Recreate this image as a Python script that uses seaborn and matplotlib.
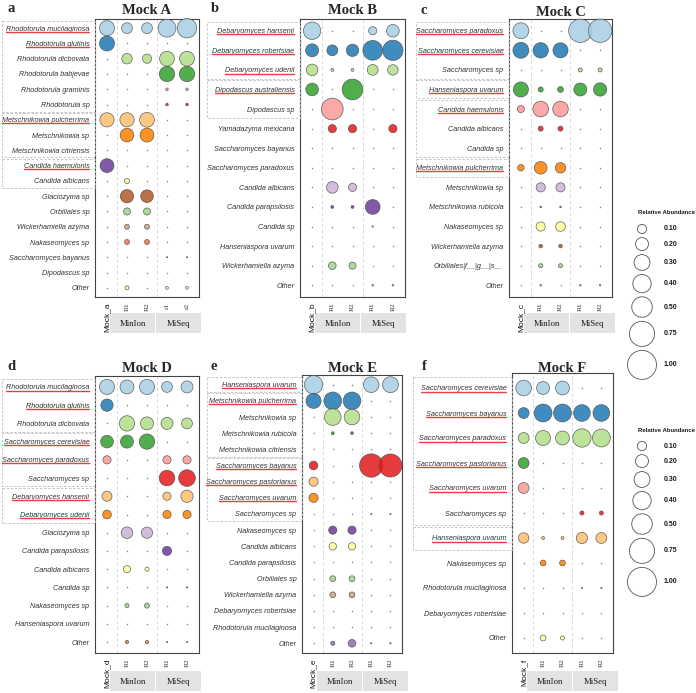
import matplotlib
matplotlib.use("Agg")
import matplotlib.pyplot as plt
import matplotlib.transforms as mtrans
from matplotlib.patches import Rectangle
from matplotlib.lines import Line2D
import pandas as pd
import seaborn as sns

# ---------------- data ----------------
A_taxa = ["Rhodotorula mucilaginosa", "Rhodotorula glutinis", "Rhodotorula dicbovata",
          "Rhodotorula babjevae", "Rhodotorula graminis", "Rhodotorula sp",
          "Metschnikowia pulcherrima", "Metschnikowia sp", "Metschnikowia citriensis",
          "Candida haemulonis", "Candida albicans", "Glaciozyma sp", "Orbiliales sp",
          "Wickerhamiella azyma", "Nakaseomyces sp", "Saccharomyces bayanus",
          "Dipodascus sp", "Other"]
A_vals = [[0.27, 0.14, 0.14, 0.38, 0.45],
          [0.27, 0, 0, 0, 0],
          [0, 0.13, 0.10, 0.26, 0.26],
          [0, 0, 0, 0.28, 0.28],
          [0, 0, 0, 0.008, 0.008],
          [0, 0, 0, 0.008, 0.008],
          [0.24, 0.24, 0.26, 0, 0],
          [0, 0.22, 0.23, 0, 0],
          [0, 0, 0, 0, 0],
          [0.23, 0, 0, 0, 0],
          [0, 0.03, 0, 0, 0],
          [0, 0.21, 0.19, 0, 0],
          [0, 0.06, 0.06, 0, 0],
          [0, 0.03, 0.03, 0, 0],
          [0, 0.03, 0.03, 0, 0],
          [0, 0, 0, 0.002, 0.002],
          [0, 0, 0, 0, 0],
          [0, 0.02, 0, 0.01, 0.01]]
A_cols = ["Mock_a", "R1", "R2", "r1", "r2"]
A_groups = [(0, 5), (6, 8), (9, 10)]
A_under = [0, 1, 6, 9]

B_taxa = ["Debaryomyces hansenii", "Debaryomyces robertsiae", "Debaryomyces udenii",
          "Dipodascus australiensis", "Dipodascus sp", "Yamadazyma mexicana",
          "Saccharomyces bayanus", "Saccharomyces paradoxus", "Candida albicans",
          "Candida parapsilosis", "Candida sp", "Hanseniaspora uvarum",
          "Wickerhamiella azyma", "Other"]
B_vals = [[0.36, 0, 0, 0.08, 0.19],
          [0.20, 0.14, 0.18, 0.46, 0.49],
          [0.16, 0.01, 0.01, 0.14, 0.13],
          [0.19, 0, 0.51, 0, 0],
          [0, 0.56, 0, 0, 0],
          [0, 0.08, 0.08, 0, 0.08],
          [0, 0, 0, 0, 0],
          [0, 0, 0, 0, 0],
          [0, 0.16, 0.08, 0, 0],
          [0, 0.01, 0.01, 0.26, 0],
          [0, 0, 0, 0.003, 0],
          [0, 0, 0, 0, 0],
          [0, 0.07, 0.06, 0, 0],
          [0, 0, 0, 0.003, 0.003]]
B_cols = ["Mock_b", "R1", "R2", "R1", "R2"]
B_groups = [(0, 2), (3, 4)]
B_under = [0, 1, 2, 3]

C_taxa = ["Saccharomyces paradoxus", "Saccharomyces cerevisiae", "Saccharomyces sp",
          "Hanseniaspora uvarum", "Candida haemulonis", "Candida albicans", "Candida sp",
          "Metschnikowia pulcherrima", "Metschnikowia sp", "Metschnikowia rubicola",
          "Nakaseomyces sp", "Wickerhamiella azyma", "Orbiliales|f__|g__|s__", "Other"]
C_vals = [[0.30, 0, 0, 0.65, 0.65],
          [0.30, 0.28, 0.27, 0, 0],
          [0, 0, 0, 0.02, 0.02],
          [0.27, 0.03, 0.04, 0.20, 0.21],
          [0.06, 0.29, 0.29, 0, 0],
          [0, 0.03, 0.03, 0, 0],
          [0, 0, 0, 0, 0],
          [0.05, 0.19, 0.13, 0, 0],
          [0, 0.10, 0.10, 0, 0],
          [0, 0.003, 0.003, 0, 0],
          [0, 0.10, 0.11, 0, 0],
          [0, 0.015, 0.015, 0, 0],
          [0, 0.02, 0.02, 0, 0],
          [0, 0.003, 0, 0.003, 0.003]]
C_cols = ["Mock_c", "R1", "R2", "R1", "R2"]
C_groups = [(0, 2), (3, 3), (4, 6), (7, 7)]
C_under = [0, 1, 3, 4, 7]

D_taxa = ["Rhodotorula mucilaginosa", "Rhodotorula glutinis", "Rhodotorula dicbovata",
          "Saccharomyces cerevisiae", "Saccharomyces paradoxus", "Saccharomyces sp",
          "Debaryomyces hansenii", "Debaryomyces udenii", "Glaciozyma sp",
          "Candida parapsilosis", "Candida albicans", "Candida sp", "Nakaseomyces sp",
          "Hanseniaspora uvarum", "Other"]
D_vals = [[0.27, 0.23, 0.27, 0.14, 0.17],
          [0.18, 0, 0, 0, 0],
          [0, 0.28, 0.20, 0.17, 0.14],
          [0.19, 0.20, 0.28, 0, 0],
          [0.08, 0, 0, 0.08, 0.08],
          [0, 0, 0, 0.29, 0.33],
          [0.12, 0, 0, 0.08, 0.18],
          [0.09, 0, 0, 0.08, 0.08],
          [0, 0.16, 0.15, 0, 0],
          [0, 0, 0, 0.10, 0],
          [0, 0.06, 0.02, 0, 0],
          [0, 0, 0, 0.002, 0.002],
          [0, 0.02, 0.03, 0, 0],
          [0, 0, 0, 0, 0],
          [0, 0.013, 0.013, 0.002, 0.002]]
D_cols = ["Mock_d", "R1", "R2", "R1", "R2"]
D_groups = [(0, 2), (3, 5), (6, 7)]
D_under = [0, 1, 3, 4, 6, 7]

E_taxa = ["Hanseniaspora uvarum", "Metschnikowia pulcherrima", "Metschnikowia sp",
          "Metschnikowia rubicola", "Metschnikowia citriensis", "Saccharomyces bayanus",
          "Saccharomyces pastorianus", "Saccharomyces uvarum", "Saccharomyces sp",
          "Nakaseomyces sp", "Candida albicans", "Candida parapsilosis", "Orbiliales sp",
          "Wickerhamiella azyma", "Debaryomyces robertsiae", "Rhodotorula mucilaginosa",
          "Other"]
E_vals = [[0.40, 0, 0, 0.29, 0.30],
          [0.27, 0.37, 0.37, 0, 0],
          [0, 0.33, 0.29, 0, 0],
          [0, 0.01, 0.01, 0, 0],
          [0, 0, 0, 0, 0],
          [0.09, 0, 0, 0.65, 0.63],
          [0.10, 0, 0, 0, 0],
          [0.10, 0, 0, 0, 0],
          [0, 0, 0, 0.002, 0.002],
          [0, 0.08, 0.08, 0, 0],
          [0, 0.065, 0.065, 0, 0],
          [0, 0, 0, 0, 0],
          [0, 0.04, 0.04, 0, 0],
          [0, 0.04, 0.04, 0, 0],
          [0, 0, 0, 0, 0],
          [0, 0, 0, 0, 0],
          [0, 0.02, 0.07, 0.002, 0.002]]
E_cols = ["Mock_e", "R1", "R2", "R1", "R2"]
E_groups = [(0, 0), (1, 4), (5, 8)]
E_under = [0, 1, 5, 6, 7]

F_taxa = ["Saccharomyces cerevisiae", "Saccharomyces bayanus", "Saccharomyces paradoxus",
          "Saccharomyces pastorianus", "Saccharomyces uvarum", "Saccharomyces sp",
          "Hanseniaspora uvarum", "Nakaseomyces sp", "Rhodotorula mucilaginosa",
          "Debaryomyces robertsiae", "Other"]
F_vals = [[0.29, 0.20, 0.23, 0, 0],
          [0.14, 0.38, 0.38, 0.33, 0.33],
          [0.14, 0.27, 0.23, 0.40, 0.38],
          [0.14, 0, 0, 0, 0],
          [0.14, 0, 0, 0, 0],
          [0, 0, 0, 0.02, 0.02],
          [0.13, 0.01, 0.01, 0.15, 0.14],
          [0, 0.04, 0.04, 0, 0],
          [0, 0, 0, 0.002, 0.002],
          [0, 0, 0, 0, 0],
          [0, 0.04, 0.02, 0, 0]]
F_cols = ["Mock_f", "R1", "R2", "R1", "R2"]
F_groups = [(0, 5), (6, 6)]
F_under = [0, 1, 2, 3, 4, 6]

legend_vals = [0.10, 0.20, 0.30, 0.40, 0.50, 0.75, 1.00]
platforms = ["MinIon", "MiSeq"]

palette = ["#A6CEE3", "#1F78B4", "#B2DF8A", "#33A02C", "#FB9A99", "#E31A1C",
           "#FDBF6F", "#FF7F00", "#CAB2D6", "#6A3D9A", "#FFFF99", "#B15928",
           "#9FD38F", "#C9A27E", "#F0714F", "#6E6E6E", "#8E6CB5", "#EEF5A8"]

# ---------------- style ----------------
sns.set_style("white")
plt.rcParams["font.family"] = ["Liberation Sans", "DejaVu Sans"]
SERIF = ["Liberation Serif", "DejaVu Serif"]
S_MAX = 436  # marker area (pt^2) for relative abundance 1.0

W, H = 696, 693
fig = plt.figure(figsize=(W / 100, H / 100), dpi=100)


def add_ax(x0, x1, y0, y1):
    return fig.add_axes([x0 / W, 1 - y1 / H, (x1 - x0) / W, (y1 - y0) / H])


def ftext(px, py, s, **kw):
    return fig.text(px / W, 1 - py / H, s, **kw)


panels = [
    dict(letter="a", title="Mock A", taxa=A_taxa, vals=A_vals, cols=A_cols,
         groups=A_groups, under=A_under, box=(95, 199, 19, 297), left=2, lpos=(11, 9), strip=16),
    dict(letter="b", title="Mock B", taxa=B_taxa, vals=B_vals, cols=B_cols,
         groups=B_groups, under=B_under, box=(300, 405, 19, 297), left=207, lpos=(215, 9), strip=16),
    dict(letter="c", title="Mock C", taxa=C_taxa, vals=C_vals, cols=C_cols,
         groups=C_groups, under=C_under, box=(509, 612, 19, 297), left=416, lpos=(424, 11), strip=16),
    dict(letter="d", title="Mock D", taxa=D_taxa, vals=D_vals, cols=D_cols,
         groups=D_groups, under=D_under, box=(95, 199, 376, 653), left=2, lpos=(11, 367), strip=18),
    dict(letter="e", title="Mock E", taxa=E_taxa, vals=E_vals, cols=E_cols,
         groups=E_groups, under=E_under, box=(302, 402, 375, 653), left=207, lpos=(214, 367), strip=18),
    dict(letter="f", title="Mock F", taxa=F_taxa, vals=F_vals, cols=F_cols,
         groups=F_groups, under=F_under, box=(512, 613, 373, 653), left=413, lpos=(424, 367), strip=18),
]

axes = []
for p in panels:
    x0, x1, y0, y1 = p["box"]
    ax = add_ax(x0, x1, y0, y1)
    axes.append(ax)
    n = len(p["taxa"])
    recs = []
    for i, (t, row) in enumerate(zip(p["taxa"], p["vals"])):
        for j, v in enumerate(row):
            recs.append(dict(taxon=t, y=i, x=j, value=v))
    df = pd.DataFrame(recs)
    pal = {t: palette[i] for i, t in enumerate(p["taxa"])}

    ax.axvline(0.5, color="#d4d4d4", lw=0.6, ls=(0, (4, 3)), zorder=0)
    ax.axvline(2.5, color="#d4d4d4", lw=0.6, ls=(0, (4, 3)), zorder=0)

    sns.scatterplot(data=df[df.value == 0], x="x", y="y", color="#8a8a8a", s=1.3,
                    linewidth=0, legend=False, ax=ax)
    sns.scatterplot(data=df[df.value > 0], x="x", y="y", hue="taxon", palette=pal,
                    size="value", sizes=(0, S_MAX), size_norm=(0, 1),
                    edgecolor="#4a4a4a", linewidth=0.5, alpha=0.85, legend=False,
                    ax=ax, clip_on=False, zorder=3)

    ax.set_xlim(-0.6, 4.6)
    ax.set_ylim(n - 0.4, -0.6)
    ax.set_xlabel("")
    ax.set_ylabel("")
    ax.set_yticks(range(n))
    ax.set_yticklabels(p["taxa"], fontsize=5.2, fontstyle="italic", color="#333333")
    ax.set_xticks(range(5))
    ax.set_xticklabels(p["cols"], rotation=90, va="top", ha="center")
    for k, lab in enumerate(ax.get_xticklabels()):
        if k == 0:
            lab.set_fontsize(6)
            lab.set_color("#111111")
        else:
            lab.set_fontfamily(SERIF)
            lab.set_fontsize(5.3)
            lab.set_color("#333333")
    ax.tick_params(axis="both", length=2.5, width=0.5, color="#444444", pad=1.5)
    for sp in ax.spines.values():
        sp.set_color("#444444")
        sp.set_linewidth(0.8)

    # title and panel letter
    ftext((x0 + x1) / 2, p["lpos"][1] + 1, p["title"], fontsize=10.5, fontweight="bold",
          family=SERIF, ha="center", va="center")
    ftext(p["lpos"][0], p["lpos"][1], p["letter"], fontsize=10.5, fontweight="bold",
          family=SERIF, ha="center", va="center")

    # platform strips
    sy0 = y1 + p["strip"]
    for k, name in enumerate(platforms):
        sx0 = x0 + 15 + k * 46
        fig.add_artist(Rectangle((sx0 / W, 1 - (sy0 + 20) / H), 45 / W, 20 / H,
                                 transform=fig.transFigure, facecolor="#E3E3E3",
                                 edgecolor="none", zorder=0))
        ftext(sx0 + 22.5, sy0 + 10.5, name, fontsize=6.3, family=SERIF,
              ha="center", va="center", color="#1a1a1a")

    # dashed grouping boxes on the label side
    blend = mtrans.blended_transform_factory(fig.transFigure, ax.transData)
    for g0, g1 in p["groups"]:
        fig.add_artist(Rectangle((p["left"] / W, g0 - 0.46), (x0 - p["left"]) / W,
                                 g1 - g0 + 0.92, transform=blend, fill=False,
                                 edgecolor="#bdbdbd", lw=0.6, ls=(0, (3, 2))))

# legends
def draw_legend(py_title):
    ftext(667, py_title, "Relative Abundance", fontsize=4.3, fontweight="bold",
          ha="center", va="center", color="#1a1a1a")
    diam = [(S_MAX * v) ** 0.5 * 100 / 72 for v in legend_vals]
    ys = []
    y = py_title + 16
    for k, d in enumerate(diam):
        if k > 0:
            y += (diam[k - 1] + d) / 2 + 4
        ys.append(y)
    top, bot = py_title, ys[-1] + 20
    lax = add_ax(620, 696, top, bot)
    lax.set_xlim(620, 696)
    lax.set_ylim(bot, top)
    lax.axis("off")
    sns.scatterplot(x=[642] * len(legend_vals), y=ys, size=legend_vals,
                    sizes=(0, S_MAX), size_norm=(0, 1), color="white",
                    edgecolor="#555555", linewidth=0.6, legend=False, ax=lax)
    for v, yy in zip(legend_vals, ys):
        ftext(664, yy, f"{v:.2f}", fontsize=5.0, fontweight="bold", ha="left",
              va="center", color="#1a1a1a")


draw_legend(213)
draw_legend(430)

# red underlines for expected species
fig.canvas.draw()
renderer = fig.canvas.get_renderer()
for p, ax in zip(panels, axes):
    labels = ax.get_yticklabels()
    for idx in p["under"]:
        bb = labels[idx].get_window_extent(renderer)
        yc = ax.transData.transform((0, idx))[1] - 3.6
        fig.add_artist(Line2D([bb.x0 / W, bb.x1 / W], [yc / H, yc / H],
                              transform=fig.transFigure, color="#EE3B3B", lw=1.0))

fig.savefig("out.png", dpi=100)
